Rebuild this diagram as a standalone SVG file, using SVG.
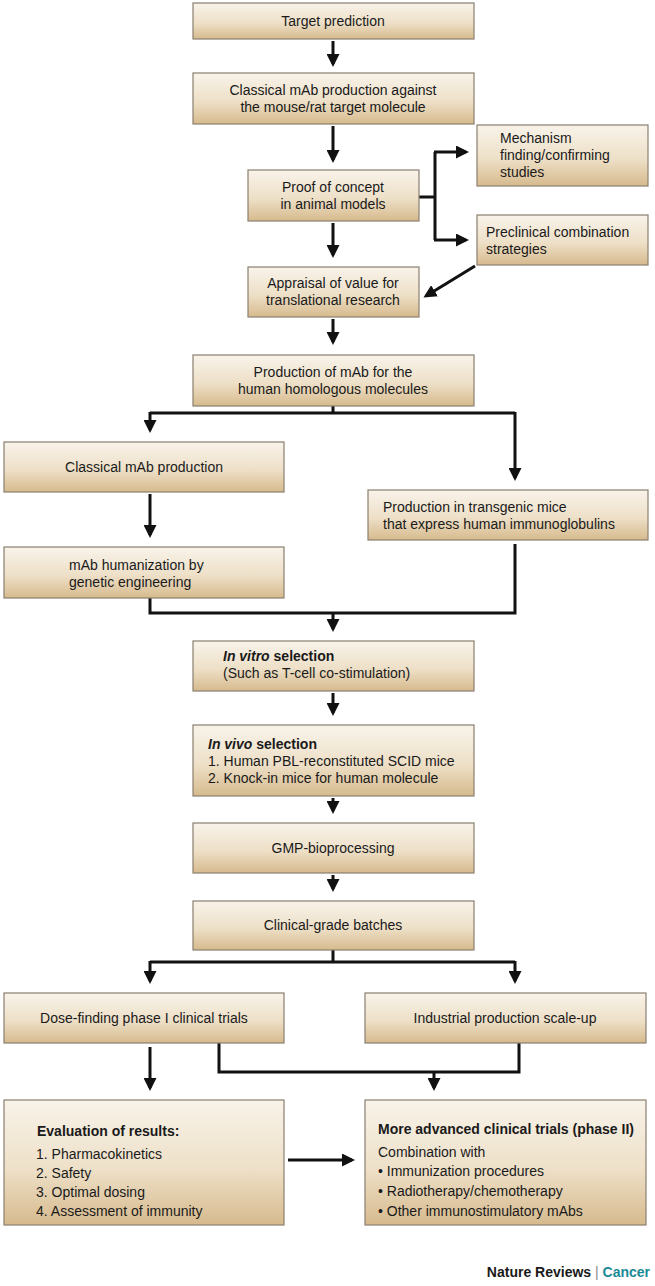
<svg xmlns="http://www.w3.org/2000/svg" width="655" height="1286" viewBox="0 0 655 1286">
<defs>
<linearGradient id="g" x1="0" y1="0" x2="0" y2="1">
<stop offset="0" stop-color="#f8f3ea"/>
<stop offset="0.55" stop-color="#eee0c8"/>
<stop offset="1" stop-color="#d6ba8d"/>
</linearGradient>
<marker id="ah" markerWidth="13" markerHeight="13" refX="10" refY="6.5" orient="auto" markerUnits="userSpaceOnUse">
<path d="M0,0 L13,6.5 L0,13 Z" fill="#111"/>
</marker>
<style>
.b{fill:url(#g);stroke:#8a7f70;stroke-width:1.2}
.t{font-family:"Liberation Sans",Arial,sans-serif;font-size:14px;fill:#1a1a1a}
.c{text-anchor:middle}
.bd{font-weight:bold}
.l{fill:none;stroke:#111;stroke-width:3}
.a{fill:none;stroke:#111;stroke-width:3;marker-end:url(#ah)}
</style>
</defs>
<rect width="655" height="1286" fill="#ffffff"/>

<g id="connectors">
<path class="a" d="M333,41 V64"/>
<path class="a" d="M333,126 V160"/>
<path class="l" d="M419,197 H435 M435,152 V240"/>
<path class="a" d="M434,152 H466"/>
<path class="a" d="M434,240 H466"/>
<path class="a" d="M333,223 V255"/>
<path class="a" d="M475,266 L426,296"/>
<path class="a" d="M333,319 V342"/>
<path class="l" d="M333,406 V413 M150,413 H515"/>
<path class="a" d="M150,412 V430"/>
<path class="a" d="M515,412 V478"/>
<path class="a" d="M150,494 V535"/>
<path class="l" d="M150,598 V613 H515 V544"/>
<path class="a" d="M333,612 V629"/>
<path class="a" d="M333,693 V713"/>
<path class="a" d="M333,798 V811"/>
<path class="a" d="M333,875 V889"/>
<path class="l" d="M333,950 V962 M150,962 H515"/>
<path class="a" d="M150,961 V981"/>
<path class="a" d="M515,961 V981"/>
<path class="a" d="M150,1047 V1088"/>
<path class="l" d="M219,1043 V1072 H519 V1043"/>
<path class="a" d="M434,1071 V1088"/>
<path class="a" d="M288,1160 H352"/>
</g>

<g id="n-target">
<rect class="b" x="193" y="3" width="281" height="36"/>
<text class="t c" x="333" y="26">Target prediction</text>
</g>
<g id="n-classical-mouse">
<rect class="b" x="193" y="73" width="281" height="51"/>
<text class="t c" x="333" y="95">Classical mAb production against</text>
<text class="t c" x="333" y="112">the mouse/rat target molecule</text>
</g>
<g id="n-mechanism">
<rect class="b" x="477" y="125" width="171" height="61"/>
<text class="t" x="500" y="143">Mechanism</text>
<text class="t" x="500" y="160">finding/confirming</text>
<text class="t" x="500" y="177">studies</text>
</g>
<g id="n-proof">
<rect class="b" x="248" y="170" width="171" height="51"/>
<text class="t c" x="333" y="192">Proof of concept</text>
<text class="t c" x="333" y="209">in animal models</text>
</g>
<g id="n-preclinical">
<rect class="b" x="477" y="215" width="171" height="50"/>
<text class="t" x="486" y="237">Preclinical combination</text>
<text class="t" x="486" y="254">strategies</text>
</g>
<g id="n-appraisal">
<rect class="b" x="248" y="267" width="171" height="50"/>
<text class="t c" x="333" y="288">Appraisal of value for</text>
<text class="t c" x="333" y="305">translational research</text>
</g>
<g id="n-production-human">
<rect class="b" x="193" y="355" width="281" height="51"/>
<text class="t c" x="333" y="377">Production of mAb for the</text>
<text class="t c" x="333" y="394">human homologous molecules</text>
</g>
<g id="n-classical">
<rect class="b" x="4" y="442" width="280" height="50"/>
<text class="t c" x="144" y="472">Classical mAb production</text>
</g>
<g id="n-transgenic">
<rect class="b" x="368" y="490" width="280" height="50"/>
<text class="t" x="383" y="512">Production in transgenic mice</text>
<text class="t" x="383" y="529">that express human immunoglobulins</text>
</g>
<g id="n-humanization">
<rect class="b" x="4" y="547" width="280" height="51"/>
<text class="t" x="69" y="570">mAb humanization by</text>
<text class="t" x="69" y="587">genetic engineering</text>
</g>
<g id="n-invitro">
<rect class="b" x="193" y="641" width="281" height="50"/>
<text class="t" x="223" y="661"><tspan class="bd" font-style="italic">In vitro</tspan><tspan class="bd"> selection</tspan></text>
<text class="t" x="223" y="678">(Such as T-cell co-stimulation)</text>
</g>
<g id="n-invivo">
<rect class="b" x="193" y="725" width="281" height="71"/>
<text class="t" x="208" y="749"><tspan class="bd" font-style="italic">In vivo</tspan><tspan class="bd"> selection</tspan></text>
<text class="t" x="208" y="766">1. Human PBL-reconstituted SCID mice</text>
<text class="t" x="208" y="783">2. Knock-in mice for human molecule</text>
</g>
<g id="n-gmp">
<rect class="b" x="193" y="823" width="281" height="50"/>
<text class="t c" x="333" y="853">GMP-bioprocessing</text>
</g>
<g id="n-clinical-grade">
<rect class="b" x="193" y="901" width="281" height="49"/>
<text class="t c" x="333" y="930">Clinical-grade batches</text>
</g>
<g id="n-dose">
<rect class="b" x="4" y="993" width="280" height="50"/>
<text class="t c" x="144" y="1023">Dose-finding phase I clinical trials</text>
</g>
<g id="n-industrial">
<rect class="b" x="365" y="993" width="281" height="50"/>
<text class="t c" x="505" y="1023">Industrial production scale-up</text>
</g>
<g id="n-evaluation">
<rect class="b" x="4" y="1100" width="280" height="125"/>
<text class="t bd" x="37" y="1136">Evaluation of results:</text>
<text class="t" x="36" y="1159">1. Pharmacokinetics</text>
<text class="t" x="36" y="1178">2. Safety</text>
<text class="t" x="36" y="1197">3. Optimal dosing</text>
<text class="t" x="36" y="1216">4. Assessment of immunity</text>
</g>
<g id="n-advanced">
<rect class="b" x="365" y="1100" width="281" height="125"/>
<text class="t bd" x="378" y="1134" font-size="14.5">More advanced clinical trials (phase II)</text>
<text class="t" x="378" y="1157">Combination with</text>
<text class="t" x="378" y="1176">• Immunization procedures</text>
<text class="t" x="378" y="1196">• Radiotherapy/chemotherapy</text>
<text class="t" x="378" y="1216">• Other immunostimulatory mAbs</text>
</g>
<text class="t bd" x="650" y="1277" text-anchor="end">Nature Reviews <tspan fill="#8a8a8a" font-weight="normal">|</tspan> <tspan fill="#1b8a96">Cancer</tspan></text>
</svg>
